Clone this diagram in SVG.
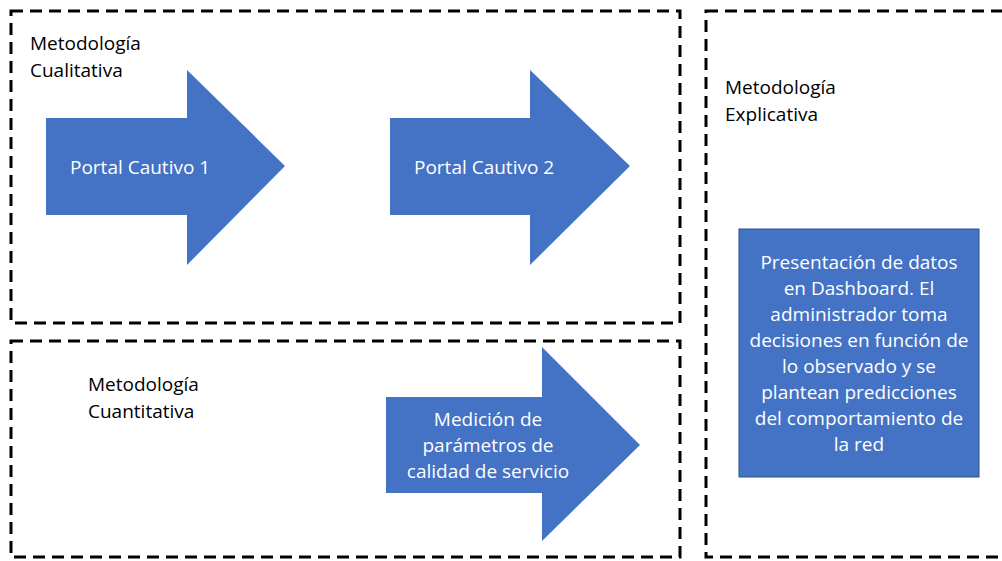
<svg xmlns="http://www.w3.org/2000/svg" width="1002" height="561" viewBox="0 0 1002 561">
<style>
.frame{fill:none;stroke:#000;stroke-width:3;stroke-dasharray:12 7}
.arrow{fill:#4472C4;stroke:none}
.box{fill:#4472C4;stroke:#2F528F;stroke-width:1}
.lbl{font-family:"Open Sans","Liberation Sans",sans-serif;font-size:19px;fill:#000}
.wt{font-family:"Open Sans","Liberation Sans",sans-serif;font-size:19px;fill:#fff}
.c{text-anchor:middle}
</style>
<rect width="1002" height="561" fill="#fff"/>
<g id="frame-cualitativa">
<rect class="frame" x="11" y="11" width="669" height="312"/>
<text class="lbl" x="30" y="50">Metodología</text>
<text class="lbl" x="30" y="77">Cualitativa</text>
</g>
<g id="frame-cuantitativa">
<rect class="frame" x="11" y="341" width="669" height="216"/>
<text class="lbl" x="88" y="391">Metodología</text>
<text class="lbl" x="88" y="418">Cuantitativa</text>
</g>
<g id="frame-explicativa">
<rect class="frame" x="706" y="11" width="310" height="546"/>
<text class="lbl" x="725" y="94">Metodología</text>
<text class="lbl" x="725" y="121">Explicativa</text>
</g>
<g id="portal1">
<polygon class="arrow" points="46,118 187,118 187,70 285,166 187,265 187,215 46,215"/>
<text class="wt" x="70" y="174">Portal Cautivo 1</text>
</g>
<g id="portal2">
<polygon class="arrow" points="390,118 530,118 530,70 630,166 530,265 530,215 390,215"/>
<text class="wt" x="414" y="174">Portal Cautivo 2</text>
</g>
<g id="medicion">
<polygon class="arrow" points="386,397 542,397 542,347 640,445 542,541 542,493 386,493"/>
<text class="wt c" x="488" y="426">Medición de</text>
<text class="wt c" x="488" y="452">parámetros de</text>
<text class="wt c" x="488" y="478">calidad de servicio</text>
</g>
<g id="dashboard">
<rect class="box" x="739" y="229" width="240" height="248"/>
<text class="wt c" x="859" y="269">Presentación de datos</text>
<text class="wt c" x="859" y="295">en Dashboard. El</text>
<text class="wt c" x="859" y="321">administrador toma</text>
<text class="wt c" x="859" y="347">decisiones en función de</text>
<text class="wt c" x="859" y="373">lo observado y se</text>
<text class="wt c" x="859" y="399">plantean predicciones</text>
<text class="wt c" x="859" y="425">del comportamiento de</text>
<text class="wt c" x="859" y="451">la red</text>
</g>
<g id="connectors"></g>
</svg>
